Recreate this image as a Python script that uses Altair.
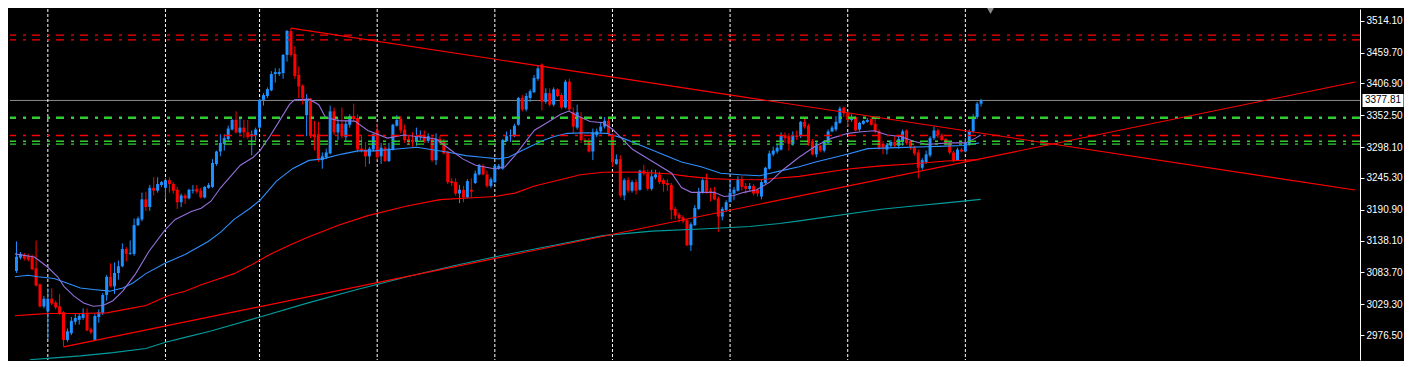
import altair as alt
import pandas as pd

# ---------------- candle data (H4, index 0..246) ----------------
opens = [3086.1,3109.0,3113.9,3112.2,3110.6,3091.0,3063.2,3025.6,3017.4,3038.7,
3032.1,3025.6,3015.7,2968.3,2979.8,2999.4,3002.7,3005.9,3012.5,2986.3,
2968.3,3007.6,3014.1,3045.2,3076.3,3059.9,3082.8,3094.3,3123.7,3115.5,
3115.5,3164.6,3174.4,3208.7,3195.6,3228.4,3223.5,3233.3,3228.4,3241.5,
3234.9,3225.1,3203.8,3215.3,3210.4,3223.5,3226.7,3223.5,3212.0,3228.4,
3230.0,3269.2,3290.5,3303.6,3311.8,3328.1,3344.5,3323.2,3331.4,3323.2,
3316.7,3318.3,3331.4,3378.8,3385.4,3395.2,3423.0,3423.0,3424.6,3455.7,
3496.6,3457.3,3421.4,3403.4,3352.7,3380.5,3320.0,3320.0,3275.8,3280.7,
3287.2,3359.2,3323.2,3337.9,3315.1,3336.3,3351.0,3347.8,3295.4,3293.8,
3282.3,3293.8,3326.5,3282.3,3297.0,3274.2,3293.8,3334.7,3346.1,3328.1,
3311.8,3310.1,3306.9,3315.1,3318.3,3308.5,3311.8,3275.8,3311.8,3308.5,
3290.5,3239.8,3238.2,3218.6,3225.1,3212.0,3225.1,3236.6,3251.3,3266.0,
3251.3,3231.6,3238.2,3261.1,3261.1,3308.5,3316.7,3316.7,3336.3,3382.1,
3362.5,3382.1,3391.9,3414.8,3439.3,3375.5,3390.3,3370.6,3396.9,3387.0,
3365.7,3409.9,3357.6,3331.4,3349.4,3310.1,3308.5,3290.5,3318.3,3324.9,
3333.1,3342.9,3316.7,3269.2,3277.4,3215.3,3241.5,3223.5,3238.2,3225.1,
3257.8,3252.9,3226.7,3246.4,3251.3,3241.5,3236.6,3233.3,3192.4,3182.6,
3177.7,3172.8,3130.2,3164.6,3192.4,3220.2,3241.5,3223.5,3221.8,3210.4,
3179.3,3190.7,3203.8,3218.6,3223.5,3243.1,3231.6,3226.7,3231.6,3225.1,
3213.6,3236.6,3261.1,3285.6,3290.5,3293.8,3318.3,3316.7,3303.6,3318.3,
3316.7,3341.2,3334.7,3308.5,3285.6,3300.3,3292.1,3305.2,3324.9,3328.1,
3339.6,3365.7,3356.0,3344.5,3349.4,3328.1,3337.9,3341.2,3346.1,3337.9,
3324.9,3303.6,3293.8,3300.3,3306.9,3300.3,3308.5,3326.5,3308.5,3297.0,
3288.9,3262.7,3272.5,3284.0,3313.4,3326.5,3318.3,3311.8,3305.2,3288.9,
3275.8,3293.8,3290.5,3302.0,3324.9,3349.4,3372.3]

highs = [3136.8,3118.8,3117.1,3115.5,3113.9,3138.4,3064.8,3043.6,3056.6,3056.6,
3035.4,3046.8,3017.4,2988.0,3007.6,3012.5,3014.1,3022.3,3022.3,2989.6,
3012.5,3020.7,3048.5,3079.5,3099.2,3100.8,3104.1,3133.5,3127.0,3138.4,
3176.0,3179.3,3220.2,3221.8,3233.3,3246.4,3246.4,3239.8,3244.7,3246.4,
3238.2,3230.0,3218.6,3218.6,3226.7,3233.3,3233.3,3228.4,3231.6,3236.6,
3277.4,3292.1,3320.0,3320.0,3334.7,3346.1,3359.2,3346.1,3344.5,3344.5,
3326.5,3331.4,3380.5,3390.3,3400.1,3427.9,3432.8,3432.8,3457.3,3498.2,
3501.5,3470.4,3436.1,3405.0,3388.6,3382.1,3342.9,3341.2,3288.9,3295.4,
3369.0,3365.7,3346.1,3365.7,3344.5,3354.3,3372.3,3354.3,3316.7,3306.9,
3298.7,3321.6,3337.9,3305.2,3300.3,3305.2,3337.9,3352.7,3351.0,3336.3,
3318.3,3323.2,3331.4,3326.5,3326.5,3321.6,3316.7,3321.6,3316.7,3311.8,
3292.1,3244.7,3244.7,3233.3,3231.6,3243.1,3244.7,3257.8,3269.2,3269.2,
3257.8,3246.4,3269.2,3269.2,3311.8,3324.9,3328.1,3337.9,3383.7,3387.0,
3390.3,3396.9,3421.4,3437.7,3441.0,3398.5,3398.5,3400.1,3398.5,3390.3,
3413.2,3414.8,3365.7,3370.6,3357.6,3313.4,3313.4,3329.8,3329.8,3341.2,
3349.4,3347.8,3321.6,3285.6,3284.0,3244.7,3246.4,3241.5,3243.1,3259.4,
3267.6,3259.4,3259.4,3259.4,3256.2,3244.7,3243.1,3236.6,3195.6,3185.8,
3180.9,3176.0,3169.5,3198.9,3228.4,3244.7,3252.9,3228.4,3230.0,3213.6,
3195.6,3207.1,3241.5,3230.0,3248.0,3249.6,3236.6,3236.6,3234.9,3226.7,
3243.1,3264.3,3292.1,3298.7,3303.6,3323.2,3323.2,3321.6,3324.9,3326.5,
3342.9,3347.8,3337.9,3311.8,3306.9,3302.0,3310.1,3328.1,3334.7,3351.0,
3367.4,3367.4,3359.2,3354.3,3351.0,3341.2,3344.5,3347.8,3351.0,3346.1,
3328.1,3308.5,3305.2,3310.1,3316.7,3318.3,3328.1,3328.1,3310.1,3300.3,
3293.8,3279.1,3292.1,3316.7,3333.1,3329.8,3321.6,3313.4,3308.5,3292.1,
3297.0,3297.0,3313.4,3328.1,3354.3,3375.5,3380.5]

lows = [3082.8,3105.7,3104.1,3102.5,3087.7,3059.9,3023.9,3022.3,2969.9,3027.2,
3020.7,3010.8,2956.9,2965.1,2976.5,2994.5,2994.5,3002.7,2983.1,2978.1,
2966.7,2997.8,3010.8,3035.4,3058.3,3046.8,3071.4,3092.6,3102.5,3113.9,
3112.2,3162.9,3171.1,3189.1,3189.1,3215.3,3220.2,3230.0,3208.7,3220.2,
3218.6,3192.4,3195.6,3200.6,3208.7,3218.6,3218.6,3210.4,3210.4,3226.7,
3228.4,3266.0,3282.3,3292.1,3308.5,3326.5,3321.6,3320.0,3313.4,3311.8,
3283.9,3310.1,3328.1,3369.0,3382.1,3393.6,3408.3,3419.7,3414.8,3444.2,
3452.4,3414.8,3382.1,3370.6,3316.7,3313.4,3292.1,3272.5,3261.1,3277.4,
3285.6,3318.3,3310.1,3313.4,3308.5,3331.4,3342.9,3288.9,3288.9,3264.3,
3269.2,3290.5,3275.8,3269.2,3272.5,3272.5,3292.1,3333.1,3321.6,3305.2,
3302.0,3298.7,3300.3,3310.1,3305.2,3305.2,3272.5,3267.6,3302.0,3285.6,
3234.9,3231.6,3215.3,3202.2,3203.8,3210.4,3212.0,3234.9,3249.6,3249.6,
3228.4,3228.4,3236.6,3259.4,3259.4,3306.9,3306.9,3315.1,3334.7,3359.2,
3359.2,3375.5,3390.3,3411.5,3360.8,3372.3,3367.4,3367.4,3383.7,3362.5,
3364.1,3359.2,3321.6,3328.1,3305.2,3303.6,3288.9,3275.8,3315.1,3321.6,
3329.8,3318.3,3264.3,3267.6,3212.0,3207.1,3220.2,3220.2,3216.9,3223.5,
3249.6,3223.5,3223.5,3243.1,3234.9,3221.8,3223.5,3174.4,3174.4,3169.5,
3167.9,3128.6,3120.4,3162.9,3190.7,3218.6,3218.6,3205.5,3207.1,3153.1,
3172.8,3187.5,3205.5,3207.1,3221.8,3223.5,3218.6,3223.5,3215.3,3213.6,
3208.7,3234.9,3259.4,3282.3,3287.2,3292.1,3305.2,3292.1,3300.3,3310.1,
3313.4,3329.8,3300.3,3283.9,3280.7,3288.9,3288.9,3303.6,3323.2,3324.9,
3337.9,3349.4,3333.1,3341.2,3324.9,3324.9,3336.3,3339.6,3334.7,3321.6,
3293.8,3285.6,3285.6,3297.0,3297.0,3295.4,3300.3,3302.0,3293.8,3283.9,
3244.7,3259.4,3269.2,3280.7,3310.1,3313.4,3308.5,3300.3,3285.6,3272.5,
3274.2,3288.9,3288.9,3300.3,3321.6,3346.1,3367.4]

closes = [3110.6,3115.5,3107.4,3105.7,3089.3,3061.5,3025.6,3038.7,3038.7,3030.5,
3023.9,3014.1,2968.3,2983.1,3001.0,3005.9,3009.2,3012.5,2984.7,2981.4,
3009.2,3015.7,3045.2,3076.3,3059.9,3082.8,3094.3,3123.7,3115.5,3117.1,
3164.6,3176.0,3208.7,3195.6,3228.4,3223.5,3234.9,3238.2,3241.5,3234.9,
3223.5,3203.8,3215.3,3210.4,3225.1,3225.1,3221.8,3212.0,3230.0,3233.3,
3270.9,3290.5,3305.2,3313.4,3329.8,3344.5,3323.2,3331.4,3323.2,3315.1,
3320.0,3328.1,3378.8,3387.0,3396.9,3423.0,3426.3,3426.3,3455.7,3496.6,
3455.7,3419.7,3401.7,3382.1,3378.8,3316.7,3315.1,3277.4,3282.3,3288.9,
3359.2,3323.2,3337.9,3316.7,3337.9,3351.0,3346.1,3293.8,3292.1,3282.3,
3295.4,3320.0,3280.7,3297.0,3274.2,3295.4,3336.3,3344.5,3326.5,3310.1,
3308.5,3306.9,3316.7,3318.3,3308.5,3316.7,3275.8,3311.8,3305.2,3287.2,
3238.2,3236.6,3218.6,3225.1,3212.0,3239.8,3221.8,3252.9,3267.6,3251.3,
3231.6,3243.1,3266.0,3266.0,3310.1,3316.7,3318.3,3334.7,3382.1,3362.5,
3385.4,3393.6,3416.4,3432.8,3375.5,3390.3,3370.6,3396.9,3385.4,3365.7,
3409.9,3362.5,3333.1,3357.6,3310.1,3306.9,3290.5,3323.2,3324.9,3333.1,
3342.9,3321.6,3272.5,3277.4,3215.3,3241.5,3223.5,3238.2,3223.5,3257.8,
3252.9,3226.7,3248.0,3251.3,3238.2,3234.9,3233.3,3190.7,3180.9,3176.0,
3171.1,3130.2,3166.2,3194.0,3221.8,3241.5,3221.8,3220.2,3208.7,3179.3,
3192.4,3203.8,3220.2,3225.1,3243.1,3230.0,3226.7,3231.6,3218.6,3218.6,
3238.2,3262.7,3287.2,3292.1,3297.0,3318.3,3313.4,3303.6,3318.3,3315.1,
3341.2,3333.1,3305.2,3285.6,3300.3,3292.1,3308.5,3324.9,3331.4,3341.2,
3364.1,3356.0,3344.5,3349.4,3326.5,3339.6,3342.9,3344.5,3336.3,3324.9,
3297.0,3297.0,3302.0,3306.9,3300.3,3311.8,3324.9,3305.2,3298.7,3287.2,
3262.7,3275.8,3285.6,3313.4,3326.5,3318.3,3310.1,3305.2,3288.9,3275.8,
3293.8,3290.5,3305.2,3324.9,3349.4,3372.3,3377.81]

# ---------------- moving averages (index, value) ----------------
ma_fast_idx = [-0.4,4.6,8.0,10.5,12.1,14.6,17.1,19.6,22.1,24.6,27.1,30.4,33.8,37.9,40.5,44.6,47.1,49.6,
52.1,54.6,57.1,60.4,62.1,64.6,67.1,69.6,70.9,74.6,77.1,78.8,82.1,86.3,89.6,94.6,98.8,102.1,107.1,
110.5,113.8,117.1,122.1,124.6,127.1,129.6,132.1,135.5,138.8,140.9,143.0,146.3,149.6,152.1,157.1,
162.1,167.1,169.6,172.1,174.6,177.9,180.5,183.0,185.5,188.8,192.1,195.5,199.6,203.8,208.0,212.1,
215.5,218.8,222.1,225.5,228.8,232.1,235.5,238.8,242.1,244.6,245.9]
ma_fast_val = [3115.5,3110.1,3092.6,3076.3,3059.9,3043.6,3031.6,3026.0,3027.2,3035.4,3051.7,3081.7,
3119.9,3156.4,3174.4,3188.0,3193.5,3205.5,3228.9,3248.0,3267.1,3280.7,3292.1,3316.2,3343.3,3370.6,
3378.8,3380.0,3370.6,3348.9,3343.3,3342.4,3326.5,3313.4,3318.8,3316.2,3311.8,3294.3,3277.9,3267.1,
3260.6,3264.3,3283.5,3305.2,3327.0,3340.7,3354.3,3359.7,3351.5,3341.7,3339.6,3328.1,3294.3,3273.7,
3253.4,3228.9,3220.7,3220.7,3220.7,3213.6,3215.3,3220.7,3225.1,3238.2,3259.4,3280.7,3299.8,3313.4,
3321.6,3324.4,3326.0,3318.8,3316.2,3308.0,3302.4,3304.1,3305.2,3305.2,3313.4,3318.8]

ma_mid_idx = [-0.4,3.0,5.5,9.6,13.0,16.3,19.6,23.8,27.1,29.6,33.0,38.0,43.0,48.8,52.1,55.5,59.6,62.1,
66.3,70.5,74.6,78.0,83.0,87.1,91.3,96.3,102.1,110.5,114.6,118.8,123.0,125.5,129.6,133.8,137.1,
140.5,145.5,150.5,154.6,159.6,164.6,169.6,174.6,179.6,184.6,189.6,194.6,199.6,203.8,212.1,217.1,
224.6,232.1,237.1,241.3,245.5]
ma_mid_val = [3076.3,3079.0,3076.3,3073.5,3065.3,3057.1,3054.5,3051.7,3057.1,3065.3,3081.7,3100.0,
3114.4,3136.3,3152.6,3174.4,3193.5,3207.1,3239.8,3261.6,3275.3,3277.9,3286.1,3291.6,3291.6,3294.3,
3297.9,3288.9,3283.5,3280.7,3277.9,3280.7,3294.3,3308.0,3316.2,3321.6,3322.7,3321.6,3313.4,3299.8,
3286.1,3272.5,3264.3,3253.4,3250.8,3249.1,3257.0,3264.3,3272.5,3286.1,3295.4,3297.1,3298.7,3299.8,
3300.8,3305.2]

ma_slow_idx = [-0.4,4.6,8.0,16.3,23.0,28.8,33.0,38.8,43.0,47.1,49.6,55.5,59.6,64.6,69.6,74.6,82.1,
89.6,99.6,108.0,116.3,122.1,127.1,132.1,137.1,143.8,149.6,158.0,166.3,171.3,177.1,183.0,189.6,
193.8,199.6,212.1,220.5,228.8,237.1,245.5]
ma_slow_val = [3009.7,3012.0,3013.6,3013.6,3014.6,3021.8,3027.2,3044.4,3051.7,3062.7,3068.1,3081.7,
3095.4,3114.4,3130.2,3144.9,3164.6,3180.9,3197.3,3208.2,3211.5,3213.6,3219.4,3231.6,3239.8,3250.8,
3255.0,3255.3,3252.4,3248.0,3244.2,3242.6,3242.3,3244.7,3248.0,3260.6,3266.0,3269.7,3274.2,3276.6]

ma_long_idx = [3.4,8.0,16.3,24.6,33.0,38.0,43.0,49.6,62.1,74.6,87.1,99.6,112.1,124.6,137.1,149.6,
162.1,174.6,187.1,194.6,199.6,220.5,228.8,237.1,245.9]
ma_long_val = [2934.5,2936.8,2941.0,2946.6,2953.6,2964.5,2972.7,2983.5,3007.6,3032.1,3055.0,3076.3,
3095.9,3113.9,3130.2,3146.6,3154.3,3158.0,3162.4,3167.4,3171.9,3191.9,3197.3,3202.7,3208.7]

# ---------------- objects ----------------
trend_down_idx = [70, 341.4]
trend_down_val = [3501.5, 3224.6]
trend_up_idx = [12, 341.4]
trend_up_val = [2956.4, 3409.4]

red_levels = [3489.6, 3481.4, 3317.8]
green_levels = [3308.0, 3303.1]
green_main_level = [3348.2]
last_price = [3377.81]
last_price_label = ["3377.81"]
separators = [8, 38, 62, 92, 122, 152, 182, 212, 242]
tick_values = [3514.10, 3459.70, 3406.90, 3352.50, 3298.10, 3245.30,
               3190.90, 3138.10, 3083.70, 3029.30, 2976.50]

# ---------------- build tables ----------------
candles = pd.DataFrame({
    "i": list(range(len(opens))),
    "open": opens, "high": highs, "low": lows, "close": closes,
})
candles["dir"] = ["up" if c >= o else "down" for o, c in zip(opens, closes)]

trend_rows = []
for name, idx, val in [("down", trend_down_idx, trend_down_val), ("up", trend_up_idx, trend_up_val)]:
    for a, b in zip(idx, val):
        trend_rows.append({"t": name, "i": a, "v": b})
trend_df = pd.DataFrame(trend_rows)

W, H = 1350, 351
x_scale = alt.Scale(domain=[-0.375, 341.375], nice=False, zero=False)
y_scale = alt.Scale(domain=[2934.0, 3534.2], nice=False, zero=False)

y_axis = alt.Axis(orient="right", values=tick_values, format=".2f", labelColor="white",
                  labelFont="Liberation Sans", labelFontSize=10, tickColor="white", tickSize=4,
                  domainColor="white", domainWidth=1, grid=False, title=None, labelPadding=2,
                  labelOverlap=False, labelFlush=False, ticks=True)

dash = [8, 6, 3, 7]

sep_layer = alt.Chart(pd.DataFrame({"x": separators})).mark_rule(
    color="white", strokeDash=[3, 2], strokeWidth=1
).encode(x=alt.X("x:Q", scale=x_scale, axis=None))

price_line = alt.Chart(pd.DataFrame({"p": last_price})).mark_rule(
    color="#8a8a8a", strokeWidth=1
).encode(y=alt.Y("p:Q", scale=y_scale, axis=y_axis))

color_c = alt.Color("dir:N", scale=alt.Scale(domain=["up", "down"], range=["#1E90FF", "#FF0000"]),
                    legend=None)

wicks = alt.Chart(candles).mark_rule(strokeWidth=1).encode(
    x=alt.X("i:Q", scale=x_scale, axis=None),
    y=alt.Y("low:Q", scale=y_scale, axis=y_axis),
    y2="high:Q",
    color=color_c,
)
bodies = alt.Chart(candles).mark_bar(size=3).encode(
    x=alt.X("i:Q", scale=x_scale, axis=None),
    y=alt.Y("open:Q", scale=y_scale, axis=y_axis),
    y2="close:Q",
    color=color_c,
)


def ma_layer(idx, val, col):
    return alt.Chart(pd.DataFrame({"i": idx, "v": val})).mark_line(
        strokeWidth=1.1, clip=True, color=col
    ).encode(
        x=alt.X("i:Q", scale=x_scale, axis=None),
        y=alt.Y("v:Q", scale=y_scale, axis=y_axis),
    )


ma_fast = ma_layer(ma_fast_idx, ma_fast_val, "#9370DB")
ma_mid = ma_layer(ma_mid_idx, ma_mid_val, "#2E8FFF")
ma_slow = ma_layer(ma_slow_idx, ma_slow_val, "#FF0000")
ma_long = ma_layer(ma_long_idx, ma_long_val, "#009C9C")

red_lv = alt.Chart(pd.DataFrame({"p": red_levels})).mark_rule(
    color="#FF0000", strokeWidth=1.4, strokeDash=dash
).encode(y=alt.Y("p:Q", scale=y_scale, axis=y_axis))
green_lv = alt.Chart(pd.DataFrame({"p": green_levels})).mark_rule(
    color="#32CD32", strokeWidth=1.4, strokeDash=dash
).encode(y=alt.Y("p:Q", scale=y_scale, axis=y_axis))
green_main = alt.Chart(pd.DataFrame({"p": green_main_level})).mark_rule(
    color="#32CD32", strokeWidth=2.4, strokeDash=dash
).encode(y=alt.Y("p:Q", scale=y_scale, axis=y_axis))

trends = alt.Chart(trend_df).mark_line(color="#FF0000", strokeWidth=1.1, clip=True).encode(
    x=alt.X("i:Q", scale=x_scale, axis=None),
    y=alt.Y("v:Q", scale=y_scale, axis=y_axis),
    detail="t:N",
)

lp_df = pd.DataFrame({"p": last_price, "label": last_price_label})
lp_box = alt.Chart(lp_df).mark_point(
    shape="M-1,-0.317L1,-0.317L1,0.317L-1,0.317Z", filled=True, color="white",
    opacity=1, size=1681, strokeWidth=0
).encode(x=alt.value(W + 23), y=alt.Y("p:Q", scale=y_scale, axis=y_axis))
lp_text = alt.Chart(lp_df).mark_text(
    color="black", font="Liberation Sans", fontSize=10, align="center", baseline="middle"
).encode(x=alt.value(W + 23), y=alt.Y("p:Q", scale=y_scale, axis=y_axis), text="label:N")

shift_mark = alt.Chart(pd.DataFrame({"k": [0]})).mark_point(
    shape="triangle-down", filled=True, color="#8c8c8c", size=45, opacity=1
).encode(x=alt.value(980.5), y=alt.value(2))

chart = alt.layer(
    price_line, sep_layer, wicks, bodies, ma_long, ma_slow, ma_mid, ma_fast,
    red_lv, green_lv, green_main, trends, lp_box, lp_text, shift_mark
).properties(
    width=W, height=H, background="black", padding=0
).configure_view(stroke=None, fill="black")

chart.save("out.html", embed_options={"renderer": "svg", "actions": False})
